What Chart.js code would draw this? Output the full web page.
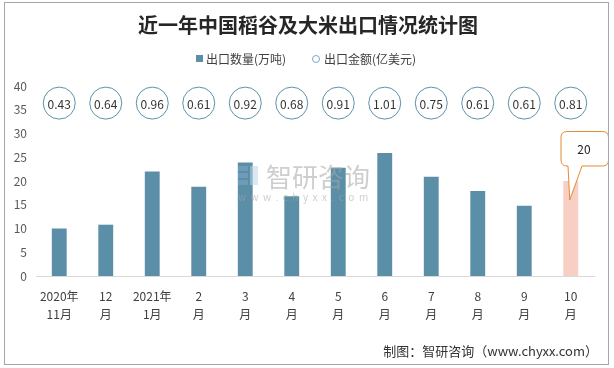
<!DOCTYPE html>
<html>
<head>
<meta charset="utf-8">
<script src="https://cdn.jsdelivr.net/npm/chart.js@4"></script>
<style>
  html, body { margin: 0; padding: 0; background: #fff; }
  #wrap { width: 614px; height: 368px; position: relative; }
</style>
</head>
<body>
<div id="wrap"><canvas id="myChart" width="614" height="368"></canvas></div>
<script>
// data
var months = [['2020年', '11月'], ['12', '月'], ['2021年', '1月'], ['2', '月'], ['3', '月'], ['4', '月'],
              ['5', '月'], ['6', '月'], ['7', '月'], ['8', '月'], ['9', '月'], ['10', '月']];
var quantity = [10, 10.8, 22, 18.8, 23.9, 16.8, 22.8, 25.9, 20.9, 17.9, 14.8, 20];   // 出口数量(万吨)
var amount = [0.43, 0.64, 0.96, 0.61, 0.92, 0.68, 0.91, 1.01, 0.75, 0.61, 0.61, 0.81]; // 出口金额(亿美元)
var yTicks = [0, 5, 10, 15, 20, 25, 30, 35, 40];

var barBlue = '#5b8fa8';
var barPink = '#f8cfc4';
var bubbleRow = 36.4; // the value circles all sit on one row near the top

var FONT = '"Noto Sans CJK SC", "Microsoft YaHei", sans-serif';

/*~~~~~~~~~~~~~~~~~~~~~~ decorations ~~~~~~~~~~~~~~~~~~~~~~*/
var extras = {
  id: 'extras',
  beforeDraw: function (chart) {
    var c = chart.ctx;
    c.save();
    c.fillStyle = '#fff';
    c.fillRect(0, 0, chart.width, chart.height);
    c.restore();
  },
  afterDatasetsDraw: function (chart) {
    var c = chart.ctx;
    c.save();

    // value text in the circles
    var pts = chart.getDatasetMeta(1).data;
    c.font = '12px ' + FONT;
    c.fillStyle = '#333';
    c.textAlign = 'center';
    c.textBaseline = 'middle';
    pts.forEach(function (p, i) {
      c.fillText(amount[i].toFixed(2), p.x, p.y + 1);
    });

    // watermark
    c.globalAlpha = 0.55;
    c.fillStyle = '#7ea7c4';
    c.fillRect(238, 166, 10, 5);
    c.fillRect(238, 173, 10, 5);
    c.fillRect(238, 180, 10, 5);
    c.fillStyle = '#b9d5e8';
    c.fillRect(250, 166, 8, 19);
    c.fillStyle = '#a6a6a6';
    c.font = '26px ' + FONT;
    c.textAlign = 'left';
    c.fillText('智研咨询', 266, 177);
    c.font = '10px ' + FONT;
    c.fillText('w  w  w  .  c  h  y  x  x  .  c  o  m', 238, 197);
    c.globalAlpha = 1;

    // callout over the last bar
    var bars = chart.getDatasetMeta(0).data;
    var last = bars[bars.length - 1];
    var bx = 561, by = 131.5, bw = 47.5, bh = 34.5, r = 6;
    var tipX = last.x - 1, tipY = last.y + 19;
    c.beginPath();
    c.moveTo(bx + r, by);
    c.lineTo(bx + bw - r, by);
    c.quadraticCurveTo(bx + bw, by, bx + bw, by + r);
    c.lineTo(bx + bw, by + bh - r);
    c.quadraticCurveTo(bx + bw, by + bh, bx + bw - r, by + bh);
    c.lineTo(582, by + bh);
    c.lineTo(tipX, tipY);
    c.lineTo(568, by + bh);
    c.lineTo(bx + r, by + bh);
    c.quadraticCurveTo(bx, by + bh, bx, by + bh - r);
    c.lineTo(bx, by + r);
    c.quadraticCurveTo(bx, by, bx + r, by);
    c.closePath();
    c.fillStyle = '#fff';
    c.fill();
    c.strokeStyle = '#e38b35';
    c.lineWidth = 1;
    c.stroke();
    c.fillStyle = '#222';
    c.font = '12px ' + FONT;
    c.textAlign = 'center';
    c.fillText(String(quantity[quantity.length - 1]), 584, 149);

    c.restore();
  },
  afterDraw: function (chart) {
    var c = chart.ctx;
    c.save();
    // title
    c.fillStyle = '#262626';
    c.font = 'bold 20px ' + FONT;
    c.textAlign = 'center';
    c.textBaseline = 'middle';
    c.fillText('近一年中国稻谷及大米出口情况统计图', 308, 25);

    // legend
    c.font = '12px ' + FONT;
    c.textAlign = 'left';
    c.fillStyle = barBlue;
    c.fillRect(196, 55, 7, 7);
    c.fillStyle = '#404040';
    c.fillText('出口数量(万吨)', 206, 59);
    c.beginPath();
    c.arc(316, 59, 3.5, 0, Math.PI * 2);
    c.strokeStyle = '#7ea7c4';
    c.lineWidth = 1;
    c.stroke();
    c.fillText('出口金额(亿美元)', 324, 59);

    // source
    c.font = '13px ' + FONT;
    c.textAlign = 'right';
    c.fillStyle = '#333';
    c.fillText('制图：智研咨询（www.chyxx.com）', 598, 351);

    // frame
    c.strokeStyle = '#a6a6a6';
    c.strokeRect(4.5, 2.5, 604, 362);
    c.restore();
  }
};

/*~~~~~~~~~~~~~~~~~~~~~~ chart ~~~~~~~~~~~~~~~~~~~~~~*/
var ctx = document.getElementById('myChart').getContext('2d');
var myChart = new Chart(ctx, {
  type: 'bar',
  data: {
    labels: months,
    datasets: [{
      label: '出口数量(万吨)',
      data: quantity,
      backgroundColor: quantity.map(function (v, i) { return i === quantity.length - 1 ? barPink : barBlue; }),
      categoryPercentage: 1,
      barPercentage: 0.32,
      order: 2
    }, {
      type: 'line',
      label: '出口金额(亿美元)',
      data: amount.map(function () { return bubbleRow; }),
      showLine: false,
      pointRadius: 16,
      pointHoverRadius: 16,
      pointBackgroundColor: '#fff',
      pointBorderColor: '#5f91aa',
      pointBorderWidth: 1,
      order: 1
    }]
  },
  options: {
    responsive: false,
    animation: false,
    events: [],
    layout: { padding: { left: 4, right: 20, top: 86, bottom: 0 } },
    plugins: {
      legend: { display: false },
      title: { display: false },
      tooltip: { enabled: false }
    },
    scales: {
      x: {
        grid: { display: false, drawTicks: false },
        border: { display: true, color: '#d9d9d9', width: 1 },
        ticks: {
          font: { family: FONT, size: 12, lineHeight: 1.5 },
          color: '#404040',
          padding: 11,
          maxRotation: 0,
          autoSkip: false
        },
        afterFit: function (s) { s.height = 92; }
      },
      y: {
        min: 0,
        max: 40,
        afterBuildTicks: function (s) { s.ticks = yTicks.map(function (v) { return { value: v }; }); },
        grid: { display: false, drawTicks: false },
        border: { display: false },
        ticks: {
          font: { family: FONT, size: 12 },
          color: '#595959',
          padding: 9
        },
        afterFit: function (s) { s.width = 32; }
      }
    }
  },
  plugins: [extras]
});
</script>
</body>
</html>
